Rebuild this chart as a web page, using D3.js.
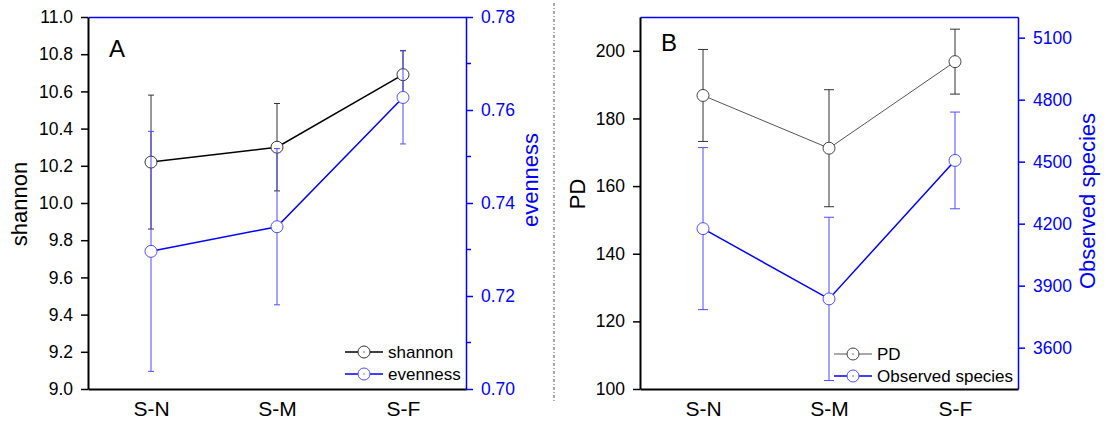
<!DOCTYPE html>
<html>
<head>
<meta charset="utf-8">
<script src="https://cdn.jsdelivr.net/npm/d3@7"></script>
<style>
  body { margin: 0; background: #fff; }
  text { font-family: "Liberation Sans", Arial, sans-serif; }
</style>
</head>
<body>
<div id="app"></div>
<script>
// categories
const sites = ['S-N', 'S-M', 'S-F'];

// panel A
const shannonMean = [10.22, 10.30, 10.69];
const shannonSd = [0.36, 0.235, 0.13];
const evennessMean = [0.7296, 0.7349, 0.7627];
const evennessSd = [0.0258, 0.0168, 0.0100];

// panel B
const pdMean = [186.8, 171.2, 196.8];
const pdSd = [13.6, 17.3, 9.6];
const obsMean = [4176, 3836, 4506];
const obsSd = [392, 395, 234];

// tick labels
const shannonTicks = [9.0, 9.2, 9.4, 9.6, 9.8, 10.0, 10.2, 10.4, 10.6, 10.8, 11.0];
const evennessTicks = [0.70, 0.72, 0.74, 0.76, 0.78];
const evennessMinor = [0.71, 0.73, 0.75, 0.77];
const pdTicks = [100, 120, 140, 160, 180, 200];
const obsTicks = [3600, 3900, 4200, 4500, 4800, 5100];

const BLUE = '#0000ff';
const W = 1107, H = 426;

const svg = d3.select('#app')
  .append('svg')
  .attr('width', W)
  .attr('height', H);

function drawPanel(p) {
  const w = 378, h = 372;
  const g = svg.append('g').attr('transform', `translate(${p.x0},17)`);

  const x = d3.scalePoint().domain(sites).range([0, w]).padding(0.5);
  const yL = d3.scaleLinear().domain(p.leftDomain).range([h, 0]);
  const yR = d3.scaleLinear().domain(p.rightDomain).range([h, 0]);

  // series: left one first, right one on top
  const series = [
    { mean: p.leftMean, sd: p.leftSd, y: yL, line: p.leftLine, lw: p.leftLw, mk: p.leftMk, eb: p.leftEb, cap: p.cap },
    { mean: p.rightMean, sd: p.rightSd, y: yR, line: BLUE, lw: 1.5, mk: '#4d4dff', eb: '#4d4dff', cap: p.cap }
  ];

  series.forEach(s => {
    const d = sites.map((c, i) => ({ c, m: s.mean[i], sd: s.sd[i] }));
    const eb = g.append('g');
    eb.selectAll('line.v').data(d).enter().append('line')
      .attr('x1', e => x(e.c)).attr('x2', e => x(e.c))
      .attr('y1', e => s.y(e.m - e.sd)).attr('y2', e => s.y(e.m + e.sd))
      .attr('stroke', s.eb).attr('stroke-width', 1);
    ['+', '-'].forEach(sign => {
      eb.selectAll('line.c' + (sign === '+' ? 'a' : 'b')).data(d).enter().append('line')
        .attr('x1', e => x(e.c) - s.cap).attr('x2', e => x(e.c) + s.cap)
        .attr('y1', e => s.y(sign === '+' ? e.m + e.sd : e.m - e.sd))
        .attr('y2', e => s.y(sign === '+' ? e.m + e.sd : e.m - e.sd))
        .attr('stroke', s.eb).attr('stroke-width', 1);
    });
    g.append('path').datum(d)
      .attr('d', d3.line().x(e => x(e.c)).y(e => s.y(e.m)))
      .attr('fill', 'none').attr('stroke', s.line).attr('stroke-width', s.lw);
    g.selectAll(null).data(d).enter().append('circle')
      .attr('cx', e => x(e.c)).attr('cy', e => s.y(e.m)).attr('r', 6)
      .attr('fill', '#fff').attr('stroke', s.mk).attr('stroke-width', 1);
  });

  // axes
  const top = g.append('g').call(d3.axisTop(x).tickValues([]).tickSizeOuter(0));
  top.select('.domain').attr('stroke', BLUE).attr('stroke-width', 1.5);

  const bottom = g.append('g').attr('transform', `translate(0,${h})`)
    .call(d3.axisBottom(x).tickSize(0).tickPadding(12));
  bottom.select('.domain').attr('stroke', '#000').attr('stroke-width', 2);
  bottom.selectAll('text').attr('font-size', 21).attr('fill', '#000')
    .attr('font-family', '"Liberation Sans", Arial, sans-serif');

  const left = g.append('g')
    .call(d3.axisLeft(yL).tickValues(p.leftTicks).tickFormat(p.leftFmt)
      .tickSize(7).tickSizeOuter(0).tickPadding(8));
  left.select('.domain').attr('stroke', '#000').attr('stroke-width', 2);
  left.selectAll('.tick line').attr('stroke', '#000').attr('stroke-width', 1.5);
  left.selectAll('text').attr('font-size', 17.5).attr('fill', '#000')
    .attr('font-family', '"Liberation Sans", Arial, sans-serif');

  const right = g.append('g').attr('transform', `translate(${w},0)`)
    .call(d3.axisRight(yR).tickValues(p.rightTicks).tickFormat(p.rightFmt)
      .tickSize(7).tickSizeOuter(0).tickPadding(8));
  right.select('.domain').attr('stroke', BLUE).attr('stroke-width', 1.5);
  right.selectAll('.tick line').attr('stroke', BLUE).attr('stroke-width', 1.5);
  right.selectAll('text').attr('font-size', 17.5).attr('fill', BLUE)
    .attr('font-family', '"Liberation Sans", Arial, sans-serif');
  if (p.rightMinor) {
    g.append('g').attr('transform', `translate(${w},0)`)
      .selectAll('line').data(p.rightMinor).enter().append('line')
      .attr('x1', 0).attr('x2', 5)
      .attr('y1', v => yR(v)).attr('y2', v => yR(v))
      .attr('stroke', BLUE).attr('stroke-width', 1.5);
  }

  // titles
  svg.append('text')
    .attr('transform', `translate(${p.leftTitleX},${p.leftTitleY}) rotate(-90)`)
    .attr('text-anchor', 'middle').attr('font-size', 22).attr('fill', '#000')
    .text(p.leftTitle);
  svg.append('text')
    .attr('transform', `translate(${p.rightTitleX},${p.rightTitleY}) rotate(-90)`)
    .attr('text-anchor', 'middle').attr('font-size', 22).attr('fill', BLUE)
    .text(p.rightTitle);
  svg.append('text')
    .attr('x', p.x0 + 21).attr('y', p.letterY)
    .attr('font-size', 24).attr('fill', '#000')
    .text(p.letter);

  // legend
  const leg = svg.append('g').attr('transform', `translate(${p.legX},${p.legY})`);
  const items = [
    { name: p.leftTitle, line: p.leftLine, mk: p.leftMk, lw: p.leftLw },
    { name: p.rightTitle, line: BLUE, mk: '#4d4dff', lw: 1.5 }
  ];
  items.forEach((it, i) => {
    const r = leg.append('g').attr('transform', `translate(0,${i * 22})`);
    r.append('line').attr('x1', 0).attr('x2', 38).attr('y1', 0).attr('y2', 0)
      .attr('stroke', it.line).attr('stroke-width', it.lw);
    r.append('circle').attr('cx', 19).attr('cy', 0).attr('r', 6)
      .attr('fill', '#fff').attr('stroke', it.mk).attr('stroke-width', 1);
    r.append('circle').attr('cx', 19).attr('cy', 0).attr('r', 0.7).attr('fill', it.mk);
    r.append('text').attr('x', 43).attr('y', 0).attr('dy', '0.35em')
      .attr('font-size', 17).attr('fill', '#000').text(it.name);
  });
}

drawPanel({
  x0: 88, letter: 'A', letterY: 57,
  leftDomain: [9, 11], rightDomain: [0.70, 0.78],
  leftMean: shannonMean, leftSd: shannonSd,
  rightMean: evennessMean, rightSd: evennessSd,
  leftTicks: shannonTicks, rightTicks: evennessTicks, rightMinor: evennessMinor,
  leftFmt: d3.format('.1f'), rightFmt: d3.format('.2f'),
  leftLine: '#000', leftLw: 1.5, leftMk: '#333', leftEb: '#333', cap: 3,
  leftTitle: 'shannon', leftTitleX: 27, leftTitleY: 204,
  rightTitle: 'evenness', rightTitleX: 538, rightTitleY: 180,
  legX: 345, legY: 352
});

drawPanel({
  x0: 640, letter: 'B', letterY: 51,
  leftDomain: [100, 210], rightDomain: [3400, 5200],
  leftMean: pdMean, leftSd: pdSd,
  rightMean: obsMean, rightSd: obsSd,
  leftTicks: pdTicks, rightTicks: obsTicks, rightMinor: null,
  leftFmt: d3.format('d'), rightFmt: d3.format('d'),
  leftLine: '#555', leftLw: 1, leftMk: '#444', leftEb: '#333', cap: 5,
  leftTitle: 'PD', leftTitleX: 585, leftTitleY: 194,
  rightTitle: 'Observed species', rightTitleX: 1095, rightTitleY: 201,
  legX: 834, legY: 354
});

// dashed separator between panels
svg.append('line')
  .attr('x1', 554).attr('x2', 554).attr('y1', 3).attr('y2', 402)
  .attr('stroke', '#555').attr('stroke-width', 1)
  .attr('stroke-dasharray', '3,2,1,2');
</script>
</body>
</html>
